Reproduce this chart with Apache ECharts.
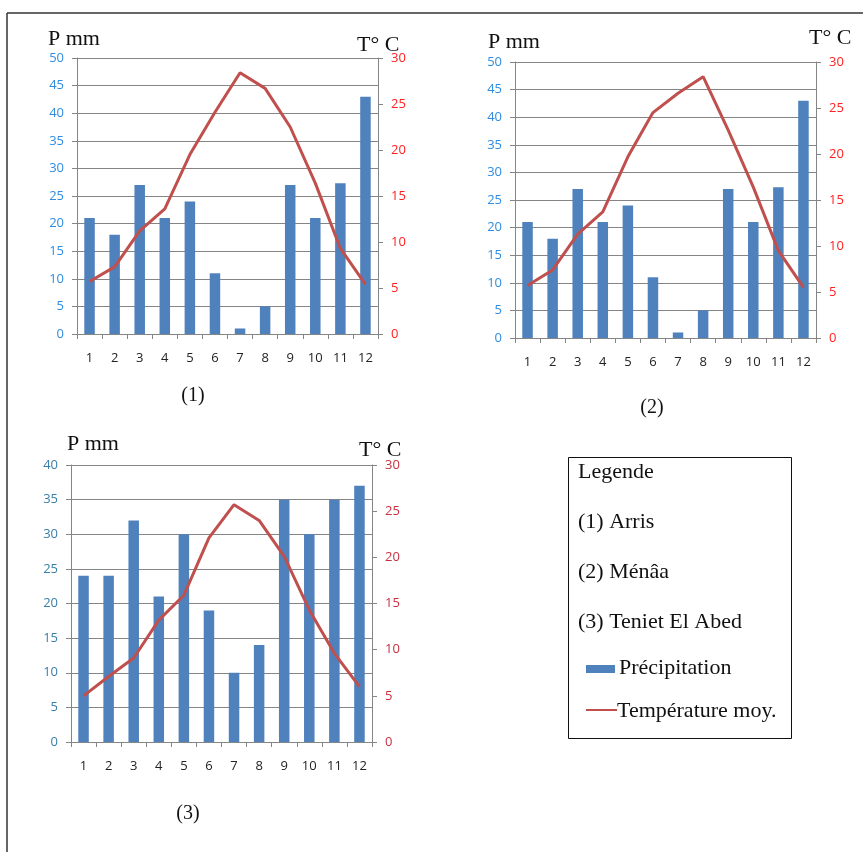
<!DOCTYPE html>
<html>
<head>
<meta charset="utf-8">
<script src="https://cdn.jsdelivr.net/npm/echarts@6/dist/echarts.min.js"></script>
<style>
html,body{margin:0;padding:0;background:#fff;}
#chart{width:863px;height:852px;}
</style>
</head>
<body>
<div id="chart"></div>
<script>
const months = ['1','2','3','4','5','6','7','8','9','10','11','12'];
const precipArris = [21, 18, 27, 21, 24, 11, 1, 5, 27, 21, 27.3, 43];
const tempArris = [5.7, 7.3, 11.2, 13.6, 19.5, 24.1, 28.4, 26.7, 22.5, 16.4, 9.3, 5.4];
const precipMenaa = [21, 18, 27, 21, 24, 11, 1, 5, 27, 21, 27.3, 43];
const tempMenaa = [5.7, 7.4, 11.3, 13.7, 19.7, 24.5, 26.6, 28.4, 22.6, 16.4, 9.5, 5.5];
const precipTeniet = [24, 24, 32, 21, 30, 19, 10, 14, 35, 30, 35, 37];
const tempTeniet = [5.0, 7.1, 9.1, 13.2, 15.9, 22.1, 25.7, 24.0, 20.1, 14.3, 9.6, 6.0];
const precipMax12 = 50, precipMax3 = 40, tempMax = 30, tickStep = 5;
const stations = ['(1) Arris', '(2) Ménâa', '(3) Teniet El Abed'];
const seriesNames = ['Précipitation', 'Température moy.'];

const chart = echarts.init(document.getElementById('chart'), null, {renderer: 'canvas'});
const serif = '"Liberation Serif","DejaVu Serif",serif';
const sans = '"Open Sans","Liberation Sans",sans-serif';
const grid = '#858585';

const grids = [
  {left: 77, top: 58, width: 301, height: 276},
  {left: 515, top: 62, width: 301, height: 276},
  {left: 71, top: 465, width: 301, height: 277}
];
const leftColors = ['#2f8ce0', '#2f8ce0', '#3a7ea8'];
const rightColors = ['#ff2020', '#ff2020', '#c83040'];
const pMax = [precipMax12, precipMax12, precipMax3];
const precips = [precipArris, precipMenaa, precipTeniet];
const temps = [tempArris, tempMenaa, tempTeniet];

const xAxes = [], yAxes = [], series = [];
grids.forEach((g, i) => {
  xAxes.push({
    type: 'category', gridIndex: i, data: months, boundaryGap: true,
    axisLine: {show: true, lineStyle: {color: grid, width: 1}},
    axisTick: {show: true, interval: 0, length: 5, lineStyle: {color: grid}},
    axisLabel: {color: '#222', fontFamily: sans, fontSize: 13, margin: 18, interval: 0}
  });
  yAxes.push({
    type: 'value', gridIndex: i, position: 'left', min: 0, max: pMax[i], interval: tickStep,
    axisLine: {show: true, lineStyle: {color: grid, width: 1}},
    axisTick: {show: true, length: 5, lineStyle: {color: grid}},
    splitLine: {show: true, lineStyle: {color: grid, width: 1}},
    axisLabel: {color: leftColors[i], fontFamily: sans, fontSize: 13, margin: 13}
  });
  yAxes.push({
    type: 'value', gridIndex: i, position: 'right', min: 0, max: tempMax, interval: tickStep,
    axisLine: {show: true, lineStyle: {color: grid, width: 1}},
    axisTick: {show: true, length: 5, lineStyle: {color: grid}},
    splitLine: {show: false},
    axisLabel: {color: rightColors[i], fontFamily: sans, fontSize: 13, margin: 13}
  });
  series.push({
    name: seriesNames[0], type: 'bar', xAxisIndex: i, yAxisIndex: 2 * i,
    data: precips[i], barWidth: 10.5, itemStyle: {color: '#4f81bd'}, silent: true
  });
  series.push({
    name: seriesNames[1], type: 'line', xAxisIndex: i, yAxisIndex: 2 * i + 1,
    data: temps[i], showSymbol: false, symbol: 'none',
    lineStyle: {color: '#c0504d', width: 3}, silent: true
  });
});

function txt(x, y, t, size, align) {
  return {type: 'text', x: x, y: y,
    style: {text: t, font: size + 'px ' + serif, fill: '#111',
      textAlign: align || 'left', textVerticalAlign: 'middle'}};
}

const graphics = [
  {type: 'line', shape: {x1: 7, y1: 13, x2: 863, y2: 13}, style: {stroke: '#333', lineWidth: 1.5}},
  {type: 'line', shape: {x1: 7, y1: 13, x2: 7, y2: 852}, style: {stroke: '#333', lineWidth: 1.5}},
  txt(48, 39, 'P mm', 22), txt(357, 45, 'T° C', 22),
  txt(488, 42, 'P mm', 22), txt(809, 38, 'T° C', 22),
  txt(67, 444, 'P mm', 22), txt(359, 450, 'T° C', 22),
  txt(193, 396, '(1)', 20, 'center'),
  txt(652, 408, '(2)', 20, 'center'),
  txt(188, 814, '(3)', 20, 'center'),
  {type: 'rect', shape: {x: 568.5, y: 457.5, width: 223, height: 281}, style: {fill: 'none', stroke: '#111', lineWidth: 1}},
  txt(578, 472, 'Legende', 22),
  txt(578, 522, stations[0], 22),
  txt(578, 572, stations[1], 22),
  txt(578, 622, stations[2], 22),
  {type: 'rect', shape: {x: 586, y: 665, width: 29, height: 8}, style: {fill: '#4f81bd'}},
  txt(619, 668, seriesNames[0], 22),
  {type: 'line', shape: {x1: 586, y1: 710, x2: 617, y2: 710}, style: {stroke: '#c0504d', lineWidth: 2}},
  txt(617, 711, seriesNames[1], 22)
];

chart.setOption({
  animation: false,
  backgroundColor: '#fff',
  grid: grids.map(g => Object.assign({containLabel: false}, g)),
  xAxis: xAxes,
  yAxis: yAxes,
  series: series,
  graphic: graphics
});
</script>
</body>
</html>
